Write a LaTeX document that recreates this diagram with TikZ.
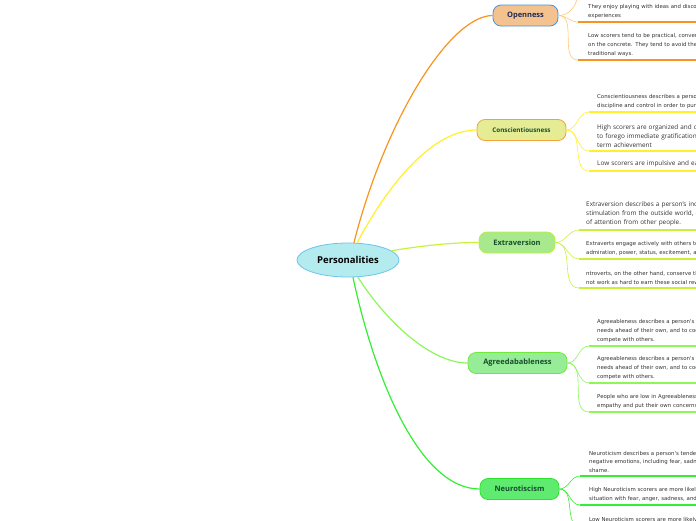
\documentclass[tikz,border=0pt]{standalone}
\usepackage{fontspec}
\setmainfont{Open Sans}
\newfontfamily\leaffont{DejaVu Sans}
\usetikzlibrary{shapes.geometric}
\definecolor{rootfill}{HTML}{B3EBEF}
\definecolor{rootdraw}{HTML}{6CC4EC}
\definecolor{openfill}{HTML}{F4C28F}
\definecolor{opendraw}{HTML}{4B93D6}
\definecolor{openline}{HTML}{F7941D}
\definecolor{opentwig}{HTML}{FFC878}
\definecolor{consfill}{HTML}{E6EC94}
\definecolor{consdraw}{HTML}{F2A33A}
\definecolor{consline}{HTML}{FFF02A}
\definecolor{extrafill}{HTML}{A9E98E}
\definecolor{extradraw}{HTML}{B8F03C}
\definecolor{extraline}{HTML}{C8F23A}
\definecolor{agreefill}{HTML}{97ED97}
\definecolor{agreedraw}{HTML}{6FEA3A}
\definecolor{agreeline}{HTML}{8CF75A}
\definecolor{neurofill}{HTML}{5EEB70}
\definecolor{neurodraw}{HTML}{2EE32E}
\definecolor{neuroline}{HTML}{33EE33}
\definecolor{navytext}{HTML}{1B2A57}
\definecolor{greentext}{HTML}{174D2E}
\definecolor{leaftext}{HTML}{333333}
\tikzset{
  rootnode/.style={ellipse,draw=rootdraw,fill=rootfill,line width=0.8pt,minimum width=102pt,minimum height=34pt,inner sep=0pt,font=\fontsize{9.5}{11}\selectfont\bfseries},
  topic/.style={rounded corners=8pt,draw,line width=0.8pt,inner sep=0pt,minimum height=21pt,text=greentext,font=\fontsize{7.5}{9}\selectfont\bfseries},
  leaf/.style={anchor=south west,inner xsep=0pt,inner ysep=3.5pt,align=left,text width=250pt,text=leaftext,font=\leaffont\fontsize{5.4}{8.6}\selectfont},
  bigleaf/.style={leaf,font=\fontsize{6.4}{9}\selectfont},
  branch/.style={line width=1.2pt},
  twig/.style={line width=0.6pt},
  uline/.style={line width=1.3pt},
}
\begin{document}
\begin{tikzpicture}[x=1pt,y=-1pt]
  \useasboundingbox (0,0) rectangle (696,520);
  \clip (0,0) rectangle (696,520);
  \node[rootnode] (root) at (348,260) {Personalities};
  \node[topic,draw=opendraw,fill=openfill,text=navytext,minimum width=65pt] (open) at (525.5,15.5) {Openness};
  \node[topic,draw=consdraw,fill=consfill,minimum width=89pt,font=\fontsize{6.3}{8}\selectfont\bfseries] (consc) at (521.5,130) {Conscientiousness};
  \node[topic,draw=extradraw,fill=extrafill,minimum width=76pt] (extra) at (517,242.5) {Extraversion};
  \node[topic,draw=agreedraw,fill=agreefill,minimum width=99pt] (agree) at (517.5,363) {Agreedabableness};
  \node[topic,draw=neurodraw,fill=neurofill,minimum width=79pt] (neuro) at (519.5,489) {Neurotiscism};

  \draw[branch,openline] (root.71) .. controls (385,120) and (450,15.5) .. (open.west);
  \draw[branch,consline] (root.62) .. controls (385,190) and (430,130) .. (consc.west);
  \draw[branch,extraline] (root.12) .. controls (420,246) and (450,242.5) .. (extra.west);
  \draw[branch,agreeline] (root.-60) .. controls (385,320) and (430,363) .. (agree.west);
  \draw[branch,neuroline] (root.-74) .. controls (375,380) and (420,489) .. (neuro.west);

  \coordinate (open0) at (580,-20);
  \node[leaf] (open1) at (588,22) {They enjoy playing with ideas and discovering novel\\experiences};
  \node[leaf] (open2) at (588,60) {Low scorers tend to be practical, conventional, and focused\\on the concrete. They tend to avoid the unknown and follow\\traditional ways.};
  \draw[twig,opentwig] (open.east) to[out=0,in=-90] (open0);
  \foreach \n in {open1,open2}{
    \draw[twig,opentwig] (open.east) to[out=0,in=180] ([xshift=-10pt]\n.south west);
    \draw[uline,openline] ([xshift=-10pt]\n.south west) -- ++(150,0);
  }

  \node[leaf] (consc1) at (597,112) {Conscientiousness describes a person's ability to exercise self-\\discipline and control in order to pursue their goals.};
  \node[bigleaf] (consc2) at (597,151) {High scorers are organized and determined, and are able\\to forego immediate gratification for the sake of long-\\term achievement};
  \node[bigleaf] (consc3) at (597,171) {Low scorers are impulsive and easily sidetracked.};
  \foreach \n in {consc1,consc2,consc3}{
    \draw[twig,consline] (consc.east) to[out=0,in=180] ([xshift=-8pt]\n.south west);
    \draw[uline,consline] ([xshift=-8pt]\n.south west) -- ++(150,0);
  }

  \node[bigleaf] (extra1) at (586,230) {Extraversion describes a person's inclination to seek\\stimulation from the outside world, especially in the form\\of attention from other people.};
  \node[leaf] (extra2) at (586,259) {Extraverts engage actively with others to earn friendship,\\admiration, power, status, excitement, and romance.};
  \node[leaf] (extra3) at (586,288) {ntroverts, on the other hand, conserve their energy, and do\\not work as hard to earn these social rewards.};
  \foreach \n in {extra1,extra2,extra3}{
    \draw[twig,extraline] (extra.east) to[out=0,in=180] ([xshift=-7pt]\n.south west);
    \draw[uline,extraline] ([xshift=-7pt]\n.south west) -- ++(150,0);
  }

  \node[leaf] (agree1) at (597,346) {Agreeableness describes a person's tendency to put others'\\needs ahead of their own, and to cooperate rather than\\compete with others.};
  \node[leaf] (agree2) at (597,383) {Agreeableness describes a person's tendency to put others'\\needs ahead of their own, and to cooperate rather than\\compete with others.};
  \node[leaf] (agree3) at (597,412) {People who are low in Agreeableness are less likely to feel\\empathy and put their own concerns ahead of others.};
  \foreach \n in {agree1,agree2,agree3}{
    \draw[twig,agreeline] (agree.east) to[out=0,in=180] ([xshift=-8pt]\n.south west);
    \draw[uline,agreeline] ([xshift=-8pt]\n.south west) -- ++(150,0);
  }

  \node[leaf] (neuro1) at (589,476) {Neuroticism describes a person's tendency to experience\\negative emotions, including fear, sadness, anxiety, guilt, and\\shame.};
  \node[leaf] (neuro2) at (589,505) {High Neuroticism scorers are more likely to react to a\\situation with fear, anger, sadness, and the like.};
  \node[leaf] (neuro3) at (589,526) {Low Neuroticism scorers are more likely to brush off their};
  \foreach \n in {neuro1,neuro2,neuro3}{
    \draw[twig,neuroline] (neuro.east) to[out=0,in=180] ([xshift=-9pt]\n.south west);
    \draw[uline,neuroline] ([xshift=-9pt]\n.south west) -- ++(150,0);
  }
\end{tikzpicture}
\end{document}
